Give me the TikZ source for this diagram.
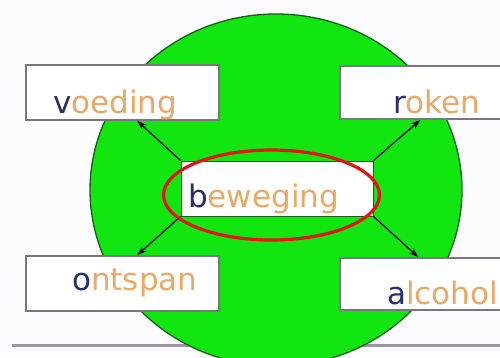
\documentclass[tikz,border=0pt]{standalone}
\usepackage{fontspec}
\setmainfont{DejaVu Sans}
\usetikzlibrary{arrows.meta,calc}
\definecolor{bgc}{HTML}{FCFBFF}
\definecolor{navy}{HTML}{2A2D6A}
\definecolor{tan}{HTML}{E9A866}
\definecolor{boxline}{HTML}{7A7680}
\definecolor{grn}{HTML}{11E611}
\definecolor{grnline}{HTML}{1B5B1B}
\definecolor{rule}{HTML}{9B95A5}
\definecolor{ringred}{HTML}{E21414}
\tikzset{
  box/.style={draw=boxline, line width=1.4pt, fill=white, rectangle, inner sep=0pt},
  word/.style={anchor=base west, inner sep=0pt, font=\fontsize{31}{31}\selectfont},
  conn/.style={line width=1.3pt, -{Stealth[length=10pt,width=6.5pt]}},
}
\newcommand{\twotone}[2]{\textcolor{navy}{#1}\textcolor{tan}{#2}}
\begin{document}
\begin{tikzpicture}[x=1pt,y=-1pt]
\useasboundingbox (0,0) rectangle (500,357);
\fill[bgc] (0,0) rectangle (500,357);
\draw[rule, line width=2.5pt] (12,345.5) -- (500,345.5);
\draw[grnline, fill=grn, line width=1.3pt] (276,190) ellipse [x radius=186, y radius=176];
\node[box, minimum width=193pt, minimum height=55pt] (voe) at (122.5,92.5) {};
\node[box, minimum width=165pt, minimum height=53pt] (rok) at (422.5,92.5) {};
\node[box, draw=grnline, line width=1pt, minimum width=192pt, minimum height=55pt] (bew) at (277,188.5) {};
\node[box, minimum width=193pt, minimum height=55pt] (ont) at (122.5,283.5) {};
\node[box, minimum width=165pt, minimum height=52pt] (alc) at (422.5,284) {};
\node[word] (tvoe) at (53,113) {\twotone{v}{oeding}};
\node[word] (trok) at (393,113) {\twotone{r}{oken}};
\node[word] (tbew) at (188,207) {\twotone{b}{eweging}};
\node[word] (tont) at (72,290) {\twotone{o}{ntspan}};
\node[word] (talc) at (387,304) {\twotone{a}{lcohol}};
\draw[conn] (bew.north west) -- ($(voe.south)+(14.5,0)$);
\draw[conn] (bew.north east) -- ($(rok.south)+(-2,0)$);
\draw[conn] (bew.south west) -- ($(ont.north)+(14.5,0)$);
\draw[conn] (bew.south east) -- ($(alc.north)+(-4,0)$);
\draw[ringred, line width=3.2pt] (271.5,195) ellipse [x radius=108, y radius=45];
\end{tikzpicture}
\end{document}
